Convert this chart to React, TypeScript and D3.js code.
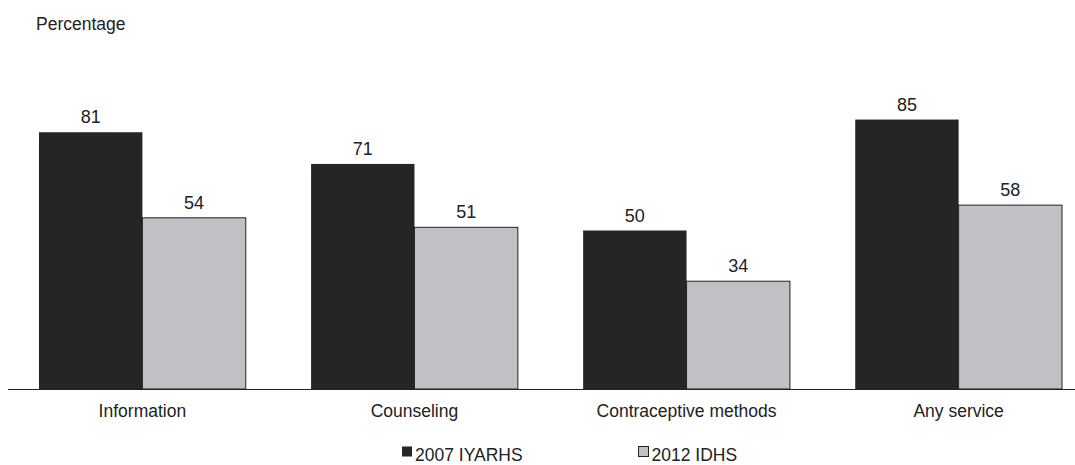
import * as d3 from "d3";

const categories = ["Information", "Counseling", "Contraceptive methods", "Any service"];
const series = ["2007 IYARHS", "2012 IDHS"];
const values2007 = [81, 71, 50, 85];
const values2012 = [54, 51, 34, 58];

const colors = ["#262425", "#c0c1c4"];
const W = 1075;
const H = 465;

export default function App() {
  const x = d3.scaleBand<string>().domain(categories).range([39, 1062]).paddingInner(0.24).paddingOuter(0);
  const xs = d3.scaleBand<string>().domain(series).range([0, x.bandwidth()]);
  const y = d3.scaleLinear().domain([0, 100]).range([389, 72]);
  const font = "'Liberation Sans', Arial, sans-serif";
  const data = [values2007, values2012];

  return (
    <svg width={W} height={H} style={{ position: "absolute", left: 0, top: 0 }} fontFamily={font}>
      <text x={36} y={30} fontSize={17.5} fill="#222">Percentage</text>
      {categories.map((c, i) => (
        <g key={c} transform={`translate(${x(c)},0)`}>
          {series.map((s, j) => {
            const v = data[j][i];
            const bx = xs(s)!;
            return (
              <g key={s}>
                <rect
                  x={bx}
                  y={y(v)}
                  width={xs.bandwidth()}
                  height={y(0) - y(v)}
                  fill={colors[j]}
                  stroke="#222"
                  strokeWidth={j === 1 ? 1 : 0}
                />
                <text x={bx + xs.bandwidth() / 2} y={y(v) - 9} textAnchor="middle" fontSize={18} fill="#222">{v}</text>
              </g>
            );
          })}
          <text x={x.bandwidth() / 2} y={417} textAnchor="middle" fontSize={17.5} fill="#222">{c}</text>
        </g>
      ))}
      <line x1={8} x2={W} y1={389.5} y2={389.5} stroke="#222" strokeWidth={1} />
      {series.map((s, j) => {
        const lx = j === 0 ? 402 : 638.5;
        return (
          <g key={s}>
            <rect x={lx} y={446.5} width={10} height={10} fill={colors[j]} stroke="#222" strokeWidth={j === 1 ? 1 : 0} />
            <text x={lx + 13} y={460.5} fontSize={17.5} fill="#222">{s}</text>
          </g>
        );
      })}
    </svg>
  );
}
